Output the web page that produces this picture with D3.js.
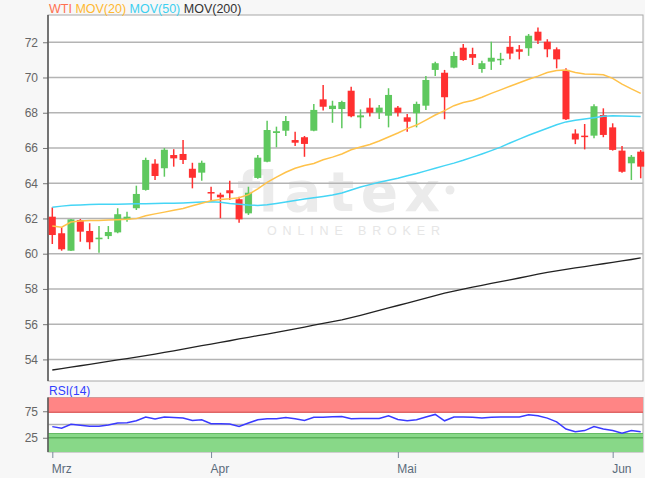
<!DOCTYPE html>
<html><head><meta charset="utf-8">
<script src="https://cdn.jsdelivr.net/npm/d3@7/dist/d3.min.js"></script>
<style>
html,body{margin:0;padding:0;background:#f7f7f7;}
svg{display:block;font-family:"Liberation Sans",Arial,sans-serif;}
</style>
</head><body>
<svg id="c" width="645" height="478"></svg>
<script>
// ---- data ----
const opens  = [62.10,61.16,60.17,61.91,61.29,60.82,61.00,61.21,61.95,62.58,63.62,65.11,64.85,65.60,65.66,64.82,64.60,63.50,63.35,63.60,63.09,62.29,64.30,65.22,66.85,66.98,66.45,66.61,66.98,68.76,68.21,68.21,69.25,67.74,68.29,68.00,67.83,68.29,67.74,67.97,68.40,70.43,70.27,70.56,71.69,71.33,70.48,70.90,71.00,71.74,71.60,71.66,72.60,72.03,71.60,70.43,66.82,66.70,66.70,67.87,67.17,65.85,65.13,65.79];
const highs  = [62.63,61.50,61.97,61.97,61.73,61.57,61.57,62.58,62.38,63.86,65.45,65.36,66.00,65.93,66.45,65.16,65.28,63.80,63.46,64.14,63.23,63.80,65.60,67.55,67.21,67.81,66.92,66.68,68.50,69.57,68.68,68.68,69.48,68.19,68.82,68.44,69.39,68.38,67.93,68.63,70.09,70.90,70.43,71.46,71.90,71.69,70.95,72.03,71.40,72.35,71.84,72.47,72.84,72.17,71.71,70.52,67.06,67.36,68.48,68.25,67.40,66.11,65.60,65.88];
const lows   = [60.55,60.17,60.15,60.68,60.25,60.06,60.83,61.16,61.82,62.48,63.58,64.18,64.37,64.94,65.09,63.71,64.14,62.95,62.01,63.05,61.76,62.20,64.26,65.19,66.04,66.68,66.11,65.50,66.95,68.12,67.43,67.12,67.74,67.12,67.78,67.64,67.17,67.78,66.92,67.17,68.16,70.09,67.63,70.52,70.95,70.71,70.27,70.43,70.71,71.03,71.03,71.23,71.90,71.15,70.52,67.59,66.22,65.92,66.55,66.61,65.85,64.60,64.18,64.28];
const closes = [61.06,60.25,61.95,61.25,60.65,60.91,61.23,62.24,62.10,63.39,65.32,64.41,65.90,65.41,65.32,64.31,65.16,63.44,63.20,63.43,61.95,63.46,65.45,67.02,66.95,67.53,66.30,66.23,68.16,68.34,68.40,68.61,67.80,67.85,68.00,68.29,69.01,68.00,67.49,68.50,69.86,70.81,68.88,71.22,70.99,71.12,70.81,71.12,71.06,71.36,71.46,72.37,72.09,71.60,71.03,67.63,66.48,66.64,68.37,66.74,65.89,64.65,65.50,64.94];
const mov20  = [61.57,61.50,61.80,61.86,61.88,61.89,61.91,61.93,61.95,61.99,62.15,62.26,62.36,62.46,62.56,62.72,62.86,63.00,63.08,63.12,63.18,63.35,63.68,64.05,64.35,64.62,64.85,65.00,65.12,65.33,65.48,65.66,65.90,66.05,66.20,66.40,66.62,66.85,67.10,67.30,67.58,67.87,68.12,68.40,68.58,68.70,68.88,69.10,69.30,69.50,69.70,69.90,70.08,70.28,70.40,70.43,70.28,70.20,70.18,70.15,69.95,69.62,69.35,69.10];
const mov50  = [62.63,62.70,62.75,62.77,62.79,62.80,62.80,62.81,62.82,62.83,62.84,62.85,62.86,62.87,62.88,62.90,62.93,62.95,62.92,62.85,62.80,62.76,62.74,62.78,62.85,62.93,63.02,63.10,63.17,63.25,63.33,63.45,63.62,63.78,63.92,64.05,64.17,64.28,64.42,64.55,64.70,64.85,65.00,65.14,65.30,65.48,65.66,65.85,66.05,66.28,66.50,66.72,66.92,67.12,67.32,67.48,67.57,67.64,67.72,67.80,67.83,67.82,67.80,67.78];
const mov200 = [53.40,53.48,53.56,53.64,53.72,53.80,53.89,53.97,54.05,54.13,54.21,54.30,54.40,54.49,54.59,54.68,54.78,54.87,54.97,55.06,55.16,55.25,55.35,55.44,55.54,55.64,55.73,55.83,55.94,56.04,56.15,56.25,56.37,56.50,56.64,56.78,56.92,57.06,57.20,57.34,57.48,57.62,57.76,57.88,57.99,58.10,58.20,58.31,58.41,58.52,58.62,58.73,58.84,58.94,59.03,59.11,59.19,59.27,59.35,59.43,59.51,59.59,59.67,59.76];
const rsi14  = [46,43,50.5,48.5,46.5,46.5,49,52.7,53.5,57,64,60.5,64,63,62.3,57.5,59,51.5,51.3,50.8,46.2,52.7,59,61,61,63.3,60.8,57.5,63.5,63.5,64.5,65,61,61.5,61.5,61.5,66.5,59.5,57,59,64,69,57,64,64.2,63.5,62.3,63.5,64,64.2,64.2,68.5,66.5,62,55,41.5,36.5,38.5,46,41.5,38.5,33.5,38.5,36.5];
const yTicks = [54,56,58,60,62,64,66,68,70,72];
const rsiTicks = [25,75];
const monthLabels = ["Mrz","Apr","Mai","Jun"];
const monthIndex = [0,17,37,60];
const legendNames = ["WTI","MOV(20)","MOV(50)","MOV(200)"];

// ---- layout ----
const L=48, R=643, T=15, B=381, RT=397.5, RB=452;
const svg = d3.select("#c");
const idx = d3.range(opens.length);
const x = d3.scaleLinear().domain([0, opens.length-1]).range([52.3, 640.7]);
const y = d3.scaleLinear().domain([52.775, 73.547]).range([B, T]);
const yr = d3.scaleLinear().domain([0,100]).range([451, 398]);

// main frame
svg.append("rect").attr("x",L).attr("y",T).attr("width",R-L).attr("height",B-T)
  .attr("fill","#fff").attr("stroke","#a8a8a8").attr("stroke-width",1);

// watermark
svg.append("text").attr("x",237).attr("y",210.5).attr("textLength",203).attr("lengthAdjust","spacing")
  .attr("font-family","'DejaVu Sans',sans-serif").attr("font-weight","bold").attr("font-size",55)
  .attr("fill","#ebebeb").text("flatex");
svg.append("circle").attr("cx",450).attr("cy",190).attr("r",4.5).attr("fill","#ebebeb");
svg.append("text").attr("x",267).attr("y",234.5).attr("textLength",173).attr("lengthAdjust","spacing")
  .attr("font-size",12.5).attr("fill","#e6e6e6").text("ONLINE BROKER");

// gridlines
svg.append("g").selectAll("line").data(yTicks).join("line")
  .attr("x1",L).attr("x2",R).attr("y1",d=>y(d)).attr("y2",d=>y(d))
  .attr("stroke","#b4b4b4").attr("stroke-width",1.5);

// y axis
const ya = svg.append("g").attr("transform",`translate(${L},0)`)
  .call(d3.axisLeft(y).tickValues(yTicks).tickSize(5).tickPadding(5).tickFormat(d3.format("d")));
ya.select(".domain").remove();
ya.selectAll("line").attr("stroke","#777");
ya.selectAll("text").attr("fill","#666").attr("font-size",12).attr("font-family","'Liberation Sans',Arial,sans-serif");
svg.append("line").attr("x1",L).attr("x2",L).attr("y1",T).attr("y2",B).attr("stroke","#555").attr("stroke-width",1.5);

// candles
const red="#ff3030", green="#5ec85e";
const cg = svg.append("g");
cg.selectAll("line").data(idx).join("line")
  .attr("x1",i=>x(i)).attr("x2",i=>x(i)).attr("y1",i=>y(highs[i])).attr("y2",i=>y(lows[i]))
  .attr("stroke",i=>closes[i]>=opens[i]?green:red).attr("stroke-width",1.5);
cg.selectAll("rect").data(idx).join("rect")
  .attr("x",i=>x(i)-3.5).attr("width",7)
  .attr("y",i=>y(Math.max(opens[i],closes[i])))
  .attr("height",i=>Math.max(1.5, Math.abs(y(opens[i])-y(closes[i]))))
  .attr("fill",i=>closes[i]>=opens[i]?green:red);

// moving averages
const line = arr => d3.line().x(i=>x(i)).y(i=>y(arr[i]))(idx);
svg.append("path").attr("d",line(mov200)).attr("fill","none").attr("stroke","#222").attr("stroke-width",1.3);
svg.append("path").attr("d",line(mov50)).attr("fill","none").attr("stroke","#45d5f5").attr("stroke-width",1.5);
svg.append("path").attr("d",line(mov20)).attr("fill","none").attr("stroke","#ffc24a").attr("stroke-width",1.5);

// legend
const legColors = ["#ff7050","#ffb830","#3dcff0","#333"];
const lt = svg.append("text").attr("x",49).attr("y",12.5).attr("font-size",12.5);
legendNames.forEach((n,i)=>{ lt.append("tspan").attr("fill",legColors[i]).text((i?" ":"")+n); });

// ---- RSI panel ----
svg.append("text").attr("x",49).attr("y",395).attr("font-size",12).attr("fill","#3040ff").text("RSI(14)");
svg.append("rect").attr("x",L).attr("y",RT).attr("width",R-L).attr("height",RB-RT)
  .attr("fill","#fff").attr("stroke","#a8a8a8");
svg.append("rect").attr("x",L).attr("y",RT).attr("width",R-L).attr("height",yr(73)-RT).attr("fill","#ff8585");
svg.append("rect").attr("x",L).attr("y",yr(33)).attr("width",R-L).attr("height",RB-yr(33)).attr("fill","#88d888");
svg.append("line").attr("x1",L).attr("x2",R).attr("y1",yr(73)).attr("y2",yr(73)).attr("stroke","#e06666").attr("stroke-width",1.5);
svg.append("line").attr("x1",L).attr("x2",R).attr("y1",yr(33)).attr("y2",yr(33)).attr("stroke","#66bb66").attr("stroke-width",1);
svg.append("line").attr("x1",L).attr("x2",R).attr("y1",yr(25)).attr("y2",yr(25)).attr("stroke","#5cb05c").attr("stroke-width",1.5);
svg.append("line").attr("x1",L).attr("x2",R).attr("y1",yr(50)).attr("y2",yr(50)).attr("stroke","#b4b4b4").attr("stroke-width",1.5);
svg.append("path").attr("d",d3.line().x(i=>x(i)).y(i=>yr(rsi14[i]))(idx))
  .attr("fill","none").attr("stroke","#3a3aff").attr("stroke-width",1.5);
const ra = svg.append("g").attr("transform",`translate(${L},0)`)
  .call(d3.axisLeft(yr).tickValues(rsiTicks).tickSize(5).tickPadding(5));
ra.select(".domain").remove();
ra.selectAll("line").attr("stroke","#777");
ra.selectAll("text").attr("fill","#666").attr("font-size",12).attr("font-family","'Liberation Sans',Arial,sans-serif");
svg.append("line").attr("x1",L).attr("x2",L).attr("y1",RT).attr("y2",RB).attr("stroke","#555").attr("stroke-width",1.5);

// x axis
const xa = svg.append("g").attr("transform",`translate(0,${RB})`)
  .call(d3.axisBottom(x).tickValues(monthIndex).tickSize(6).tickPadding(6).tickFormat((d,i)=>monthLabels[i]));
xa.select(".domain").remove();
xa.selectAll("line").attr("stroke","#7a8a9a");
xa.selectAll("text").attr("text-anchor","start").attr("dx",-1).attr("fill","#5b6b7b")
  .attr("font-size",12).attr("font-family","'Liberation Sans',Arial,sans-serif");
</script>
</body></html>
